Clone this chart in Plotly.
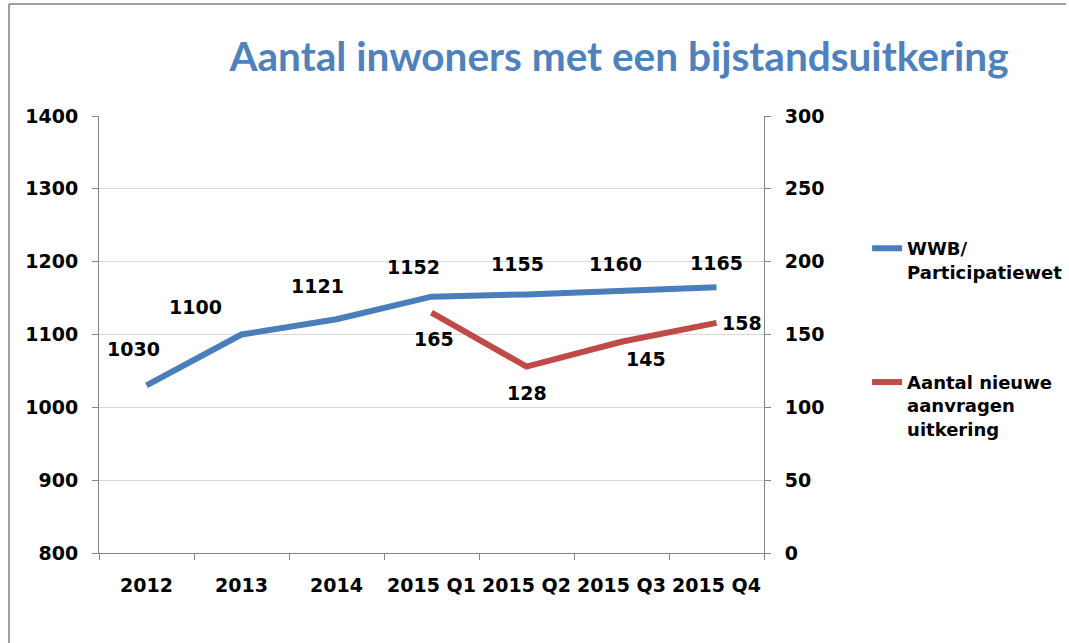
import plotly.graph_objects as go

categories = ["2012", "2013", "2014", "2015 Q1", "2015 Q2", "2015 Q3", "2015 Q4"]
wwb_values = [1030, 1100, 1121, 1152, 1155, 1160, 1165]
aanvragen_categories = ["2015 Q1", "2015 Q2", "2015 Q3", "2015 Q4"]
aanvragen_values = [165, 128, 145, 158]

title_text = "Aantal inwoners met een bijstandsuitkering"
left_ticks = [800, 900, 1000, 1100, 1200, 1300, 1400]
right_ticks = [0, 50, 100, 150, 200, 250, 300]

BLUE = "#4A7EBB"
RED = "#BE4B48"
FONT = "DejaVu Sans"

# label offsets (pixels) for the data labels
wwb_label_shift = [(-13, 36), (-46, 28), (-19, 33), (-18, 30), (-9, 30), (-6, 27), (0, 24)]
aanvragen_label_shift = [(2, -26), (0, -26), (24, -17), (25, 0)]

fig = go.Figure()
fig.add_trace(go.Scatter(
    x=categories, y=wwb_values, mode="lines", name="WWB/<br>Participatiewet",
    line=dict(color=BLUE, width=6), yaxis="y", legendgroup="a",
))
fig.add_trace(go.Scatter(
    x=aanvragen_categories, y=aanvragen_values, mode="lines",
    name="Aantal nieuwe<br>aanvragen<br>uitkering",
    line=dict(color=RED, width=6), yaxis="y2", legendgroup="b",
))

label_font = dict(family=FONT, size=19, color="black", weight="bold")
annotations = []
for c, v, (dx, dy) in zip(categories, wwb_values, wwb_label_shift):
    annotations.append(dict(x=categories.index(c), y=v, xref="x", yref="y", text=str(v),
                            showarrow=False, xshift=dx, yshift=dy, font=label_font))
for c, v, (dx, dy) in zip(aanvragen_categories, aanvragen_values, aanvragen_label_shift):
    annotations.append(dict(x=categories.index(c), y=v, xref="x", yref="y2", text=str(v),
                            showarrow=False, xshift=dx, yshift=dy, font=label_font))

tick_font = dict(family=FONT, size=19, color="black", weight="bold")

fig.update_layout(
    width=1069, height=643,
    margin=dict(l=99, r=305, t=116, b=90, autoexpand=False),
    paper_bgcolor="white", plot_bgcolor="white",
    title=dict(text=title_text, x=619 / 1069, xanchor="center", y=1 - 57 / 643, yanchor="middle",
               font=dict(family="Liberation Sans Narrow, Lato, sans-serif", size=40.5,
                         color="#4F81BD", weight="bold")),
    showlegend=True,
    legend=dict(x=1.155, xanchor="left", y=0.739, yanchor="top", valign="top",
                font=dict(family=FONT, size=18, color="black", weight="bold"),
                tracegroupgap=84, bgcolor="rgba(0,0,0,0)", itemwidth=30),
    xaxis=dict(type="category", categoryorder="array", categoryarray=categories,
               range=[-0.5, 6.5], showgrid=False, showline=True, linecolor="#868686", linewidth=1,
               ticks="outside", tickson="boundaries", ticklen=6, tickcolor="#868686",
               tickangle=0, automargin=False, ticklabelstandoff=15,
               tickfont=tick_font, zeroline=False),
    yaxis=dict(range=[800, 1400], tickvals=left_ticks, showgrid=True, gridcolor="#D9D9D9",
               showline=True, linecolor="#868686", linewidth=1, ticks="outside", ticklen=6,
               tickcolor="#868686", ticklabelstandoff=10, automargin=False,
               tickfont=tick_font, zeroline=False),
    yaxis2=dict(range=[0, 300], tickvals=right_ticks, overlaying="y", side="right",
                showgrid=False, showline=True, linecolor="#868686", linewidth=1,
                ticks="outside", ticklen=6, tickcolor="#868686", ticklabelstandoff=10,
                automargin=False, tickfont=tick_font, zeroline=False),
    annotations=annotations,
    shapes=[
        dict(type="line", xref="paper", yref="paper", x0=(9 - 99) / 665, x1=(1066 - 99) / 665,
             y0=1 + (116 - 4) / 437, y1=1 + (116 - 4) / 437, line=dict(color="#A0A0A0", width=2)),
        dict(type="line", xref="paper", yref="paper", x0=(9 - 99) / 665, x1=(9 - 99) / 665,
             y0=1 + (116 - 4) / 437, y1=-(660 - 553) / 437, line=dict(color="#A0A0A0", width=2)),
    ],
)

fig.write_html(
    "out.html",
    config={"displayModeBar": False},
    post_script="document.body.style.margin='0';document.documentElement.style.overflow='hidden';",
)
